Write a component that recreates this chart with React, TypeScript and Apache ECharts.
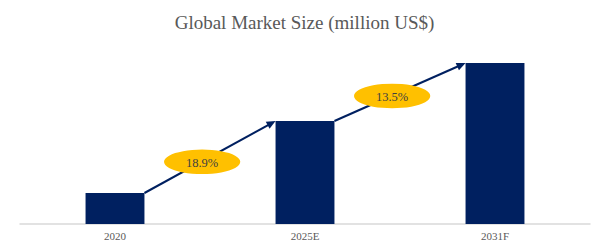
import React, { useEffect, useRef } from "react";
import * as echarts from "echarts";

const categories = ["2020", "2025E", "2031F"];
const marketSize = [31, 103, 161];
const growthLabels = ["18.9%", "13.5%"];

const BAR_RATIO = 0.31;
const NAVY = "#002060";

export default function App() {
  const ref = useRef<HTMLDivElement>(null);
  useEffect(() => {
    if (!ref.current) return;
    const chart = echarts.init(ref.current, null, { renderer: "svg" });
    const arrowData = growthLabels.map((label, i) => [i, marketSize[i], marketSize[i + 1], label]);
    chart.setOption({
      animation: false,
      title: {
        text: "Global Market Size (million US$)",
        left: "center",
        top: 8,
        textStyle: {
          fontFamily: "Liberation Serif",
          fontSize: 19,
          fontWeight: "normal",
          color: "#595959",
        },
      },
      grid: { left: 20, right: 19, top: 44, bottom: 19, outerBoundsMode: "none", containLabel: false },
      xAxis: {
        type: "category",
        data: categories,
        axisLine: { lineStyle: { color: "#D9D9D9", width: 1.5 } },
        axisTick: { show: false },
        axisLabel: {
          fontFamily: "Liberation Serif",
          fontSize: 11,
          color: "#595959",
          margin: 6,
        },
      },
      yAxis: {
        type: "value",
        min: 0,
        max: 180,
        show: false,
        splitLine: { show: false },
      },
      series: [
        {
          type: "bar",
          data: marketSize,
          barWidth: BAR_RATIO * 100 + "%",
          itemStyle: { color: NAVY },
          z: 2,
        },
        {
          type: "custom",
          data: arrowData,
          z: 5,
          renderItem: (params: any, api: any) => {
            const idx = api.value(0);
            const band = api.size([1, 0])[0];
            const half = (band * BAR_RATIO) / 2;
            const a = api.coord([idx, api.value(1)]);
            const b = api.coord([idx + 1, api.value(2)]);
            const x0 = a[0] + half;
            const y0 = a[1];
            const x1 = b[0] - half;
            const y1 = b[1];
            const dx = x1 - x0;
            const dy = y1 - y0;
            const len = Math.sqrt(dx * dx + dy * dy);
            const ux = dx / len;
            const uy = dy / len;
            const headLen = 9;
            const headW = 4;
            const bx = x1 - ux * headLen;
            const by = y1 - uy * headLen;
            const t = 0.44;
            const ex = x0 + dx * t;
            const ey = y0 + dy * t + 0.5;
            const label = growthLabels[params.dataIndex];
            return {
              type: "group",
              children: [
                {
                  type: "line",
                  shape: { x1: x0, y1: y0, x2: bx + ux * 1, y2: by + uy * 1 },
                  style: { stroke: NAVY, lineWidth: 2 },
                },
                {
                  type: "polygon",
                  shape: {
                    points: [
                      [x1, y1],
                      [bx - uy * headW, by + ux * headW],
                      [bx + uy * headW, by - ux * headW],
                    ],
                  },
                  style: { fill: NAVY },
                },
                {
                  type: "circle",
                  x: ex,
                  y: ey,
                  scaleX: 3.1,
                  scaleY: 1,
                  shape: { cx: 0, cy: 0, r: 12.3 },
                  style: { fill: "#FFC000" },
                },
                {
                  type: "text",
                  x: ex,
                  y: ey + 1,
                  style: {
                    text: label,
                    fontFamily: "Liberation Serif",
                    fontSize: 12.5,
                    fill: "#404040",
                    align: "center",
                    verticalAlign: "middle",
                  },
                },
              ],
            };
          },
        },
      ],
    });
    return () => chart.dispose();
  }, []);
  return (
    <div
      ref={ref}
      style={{ position: "absolute", left: 0, top: 0, width: 609, height: 243 }}
    />
  );
}
